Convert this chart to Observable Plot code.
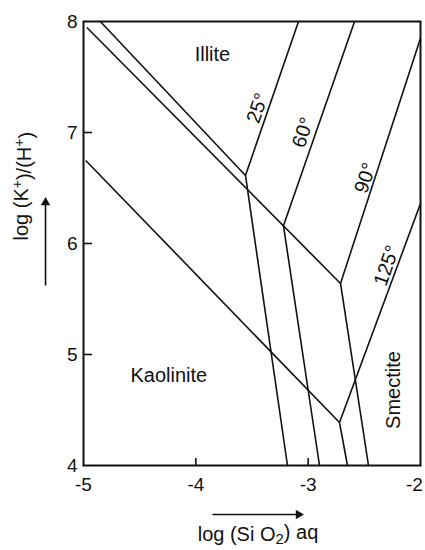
<!DOCTYPE html>
<html><head><meta charset="utf-8">
<script src="https://cdn.jsdelivr.net/npm/d3@7"></script>
<script src="https://cdn.jsdelivr.net/npm/@observablehq/plot@0.6"></script>
<style>body{margin:0;background:#fff} svg{display:block}</style>
</head><body><div id="chart"></div>
<script>
// Axis ticks
const xTicks = [-5, -4, -3, -2];
const yTicks = [4, 5, 6, 7, 8];
const xInnerTicks = [-4, -3];
const yInnerTicks = [5, 6, 7];

// Temperatures and triple points (log SiO2, log K/H)
const temps = ["25°", "60°", "90°", "125°"];
const tripleX = [-3.558, -3.22, -2.712, -2.721];
const tripleY = [6.613, 6.16, 5.64, 4.387];
// Illite/Smectite boundary end points
const isEndX = [-3.086, -2.587, -2.0, -2.0];
const isEndY = [8.0, 8.0, 7.85, 6.36];
// Kaolinite/Smectite boundary end points
const ksEndX = [-3.184, -2.899, -2.463, -2.65];
const ksEndY = [4.0, 4.0, 4.0, 4.0];
// Illite/Kaolinite boundaries: start points and the triple point they end at
const ikStartX = [-4.85, -4.97, -4.98];
const ikStartY = [8.0, 7.946, 6.748];
const ikEndIndex = [0, 2, 3];

// Text labels
const tempLabelX = [-3.45, -3.045, -2.49, -2.30];
const tempLabelY = [7.22, 7.0, 6.59, 5.80];
const regionNames = ["Illite", "Kaolinite", "Smectite"];
const regionX = [-3.852, -4.24, -2.24];
const regionY = [7.70, 4.81, 4.68];
const regionRotate = [0, 0, -90];

// Axis direction arrows
const arrowX1 = [-3.852, -5.338];
const arrowY1 = [3.559, 5.622];
const arrowX2 = [-3.086, -5.338];
const arrowY2 = [3.559, 6.369];
const arrowRot = [90, 0];

const segments = [];
ikStartX.forEach((x, i) => segments.push({x1: x, y1: ikStartY[i], x2: tripleX[ikEndIndex[i]], y2: tripleY[ikEndIndex[i]]}));
temps.forEach((t, j) => {
  segments.push({x1: tripleX[j], y1: tripleY[j], x2: isEndX[j], y2: isEndY[j]});
  segments.push({x1: tripleX[j], y1: tripleY[j], x2: ksEndX[j], y2: ksEndY[j]});
});
const tempLabels = temps.map((t, j) => ({t, x: tempLabelX[j], y: tempLabelY[j]}));
const regions = regionNames.map((n, i) => ({n, x: regionX[i], y: regionY[i], r: regionRotate[i]}));
const arrows = arrowX1.map((x, i) => ({x1: x, y1: arrowY1[i], x2: arrowX2[i], y2: arrowY2[i], r: arrowRot[i]}));

const W = 425, H = 550, ML = 83, MR = 5, MT = 21, MB = 85;
const PW = W - ML - MR, PH = H - MT - MB;
const fmt = d => d < 0 ? "-" + Math.abs(d) : String(d);

const chart = Plot.plot({
  width: W, height: H,
  marginLeft: ML, marginRight: MR, marginTop: MT, marginBottom: MB,
  style: {fontFamily: "'Liberation Sans', Arial, sans-serif", background: "#fff", color: "#111"},
  x: {domain: [-5, -2]},
  y: {domain: [4, 8]},
  marks: [
    Plot.axisX({ticks: xTicks.slice(0, -1), tickSize: 0, tickPadding: 12, fontSize: 19, label: null, tickFormat: fmt}),
    Plot.axisX({ticks: xTicks.slice(-1), tickSize: 0, tickPadding: 12, fontSize: 19, label: null, tickFormat: fmt, dx: -6}),
    Plot.axisY({ticks: yTicks, tickSize: 0, tickPadding: 6, fontSize: 19, label: null, tickFormat: fmt}),
    Plot.tickX(xInnerTicks, {x: d => d, insetTop: PH - 7, stroke: "#111", strokeWidth: 1.6}),
    Plot.tickY(yInnerTicks, {y: d => d, insetRight: PW - 9, stroke: "#111", strokeWidth: 1.6}),
    Plot.link(segments, {x1: "x1", y1: "y1", x2: "x2", y2: "y2", stroke: "#111", strokeWidth: 1.6}),
    Plot.frame({stroke: "#111", strokeWidth: 2}),
    Plot.text(tempLabels, {x: "x", y: "y", text: "t", rotate: -71, fontSize: 20, fill: "#111"}),
    Plot.text(regions, {x: "x", y: "y", text: "n", rotate: "r", fontSize: 20, fill: "#111"}),
    Plot.link(arrows, {x1: "x1", y1: "y1", x2: "x2", y2: "y2", stroke: "#111", strokeWidth: 1.6}),
    Plot.dot(arrows, {x: "x2", y: "y2", symbol: "triangle", r: 3.5, fill: "#111", stroke: null, rotate: "r"}),
    Plot.text(["log (Si O2) aq"], {frameAnchor: "bottom", dx: 6, dy: 75, fontSize: 20, fill: "#111"}),
    Plot.text(["log (K+)/(H+)"], {frameAnchor: "left", dx: -62, dy: -3, rotate: -90, fontSize: 20, fill: "#111"})
  ]
});
document.getElementById("chart").appendChild(chart);

// Typeset subscript / superscript parts as tspans
d3.select(chart).selectAll("text").each(function() {
  const el = d3.select(this);
  const s = this.textContent;
  if (s === "log (Si O2) aq") {
    el.text(null);
    el.append("tspan").text("log (Si O");
    el.append("tspan").attr("dy", "0.25em").attr("font-size", "15").text("2");
    el.append("tspan").attr("dy", "-0.25em").text(") aq");
  } else if (s === "log (K+)/(H+)") {
    el.text(null);
    el.append("tspan").text("log (K");
    el.append("tspan").attr("dy", "-0.45em").attr("font-size", "14").text("+");
    el.append("tspan").attr("dy", "0.45em").text(")/(H");
    el.append("tspan").attr("dy", "-0.45em").attr("font-size", "14").text("+");
    el.append("tspan").attr("dy", "0.45em").text(")");
  }
});
</script>
</body></html>
